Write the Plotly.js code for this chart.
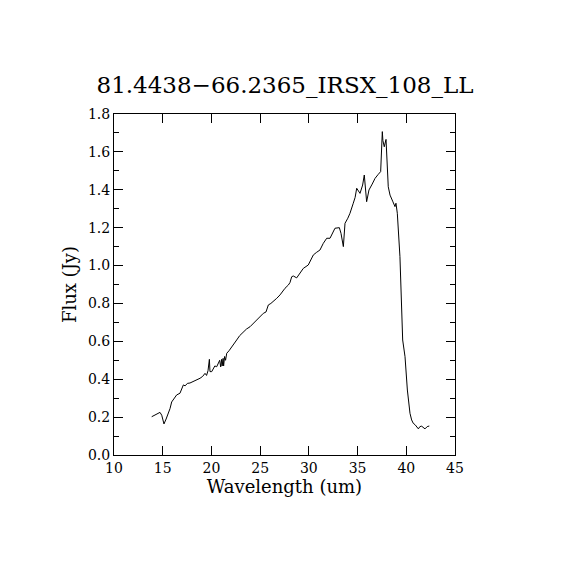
<!DOCTYPE html>
<html>
<head>
<meta charset="utf-8">
<script src="https://cdn.plot.ly/plotly-3.0.1.min.js"></script>
<style>html,body{margin:0;padding:0;background:#fff;}#chart{width:570px;height:570px;}</style>
</head>
<body>
<div id="chart"></div>
<script>
const chartTitle = "81.4438\u221266.2365_IRSX_108_LL";
const xLabel = "Wavelength (um)";
const yLabel = "Flux (Jy)";
const wavelength = [13.87,14.3,14.72,14.9,15.13,15.35,15.58,15.75,15.92,16.15,16.43,16.77,16.95,17.12,17.3,17.53,17.8,18.14,18.5,18.83,19.1,19.34,19.5,19.65,19.79,19.85,20.03,20.2,20.35,20.54,20.7,20.85,20.95,21.05,21.1,21.2,21.25,21.35,21.45,21.57,21.8,22.08,22.3,22.59,22.9,23.27,23.6,23.96,24.3,24.64,25.0,25.33,25.6,25.84,26.1,26.35,26.7,27.04,27.3,27.55,27.89,28.06,28.24,28.4,28.75,29.09,29.43,29.94,30.2,30.46,30.8,31.14,31.48,31.83,32.17,32.4,32.68,33.13,33.3,33.54,33.71,34.0,34.22,34.56,34.75,34.91,35.1,35.25,35.52,35.69,35.93,36.17,36.5,36.79,37.1,37.37,37.54,37.6,37.74,37.92,38.15,38.33,38.6,38.84,38.94,39.08,39.35,39.53,39.63,39.87,40.11,40.38,40.55,40.72,40.9,41.24,41.4,41.58,41.92,42.15,42.36];
const flux = [0.202,0.215,0.225,0.21,0.164,0.19,0.22,0.245,0.28,0.3,0.317,0.326,0.35,0.37,0.365,0.378,0.38,0.387,0.395,0.405,0.415,0.431,0.42,0.445,0.505,0.44,0.44,0.455,0.47,0.466,0.48,0.5,0.465,0.505,0.47,0.51,0.47,0.52,0.5,0.537,0.55,0.572,0.59,0.607,0.63,0.651,0.665,0.677,0.695,0.713,0.73,0.748,0.755,0.792,0.8,0.81,0.827,0.845,0.865,0.88,0.897,0.91,0.941,0.945,0.935,0.96,0.985,1.003,1.03,1.056,1.07,1.082,1.117,1.144,1.144,1.17,1.197,1.2,1.17,1.1,1.223,1.25,1.276,1.329,1.36,1.408,1.39,1.381,1.425,1.478,1.337,1.399,1.43,1.46,1.48,1.496,1.707,1.66,1.627,1.666,1.416,1.372,1.34,1.311,1.329,1.276,1.047,0.783,0.607,0.519,0.343,0.22,0.185,0.167,0.16,0.138,0.15,0.152,0.138,0.15,0.153];
const xTicks = [10,15,20,25,30,35,40,45];
const yTicks = [0.0,0.2,0.4,0.6,0.8,1.0,1.2,1.4,1.6,1.8];

const font = "DejaVu Serif, serif";
const trace = {x: wavelength, y: flux, type: 'scatter', mode: 'lines',
  line: {color: '#000', width: 1}, hoverinfo: 'none'};
const axisCommon = {showgrid: false, zeroline: false, showline: true, mirror: 'ticks',
  linecolor: '#000', linewidth: 1, ticks: 'inside', tickcolor: '#000', ticklen: 9, tickwidth: 1,
  tickfont: {family: font, size: 14, color: '#000'}, fixedrange: true};
const layout = {
  width: 570, height: 570,
  margin: {l: 114, r: 115, t: 114, b: 115, pad: 0},
  paper_bgcolor: '#fff', plot_bgcolor: '#fff',
  showlegend: false,
  title: {text: chartTitle, x: 0.5, xanchor: 'center', y: 1 - 85/570, yanchor: 'middle', yref: 'container',
    font: {family: font, size: 23, color: '#000'}},
  xaxis: Object.assign({}, axisCommon, {range: [10, 45], tickvals: xTicks, ticktext: xTicks.map(String),
    title: {text: xLabel, standoff: 3, font: {family: font, size: 18, color: '#000'}}}),
  yaxis: Object.assign({}, axisCommon, {range: [0, 1.8], tickvals: yTicks, ticktext: yTicks.map(v => v.toFixed(1)),
    minor: {tickvals: [0.1,0.3,0.5,0.7,0.9,1.1,1.3,1.5,1.7], ticks: 'inside', ticklen: 5, tickcolor: '#000'},
    title: {text: yLabel, standoff: 6, font: {family: font, size: 18, color: '#000'}}})
};
Plotly.newPlot('chart', [trace], layout, {staticPlot: true, displayModeBar: false});
</script>
</body>
</html>
